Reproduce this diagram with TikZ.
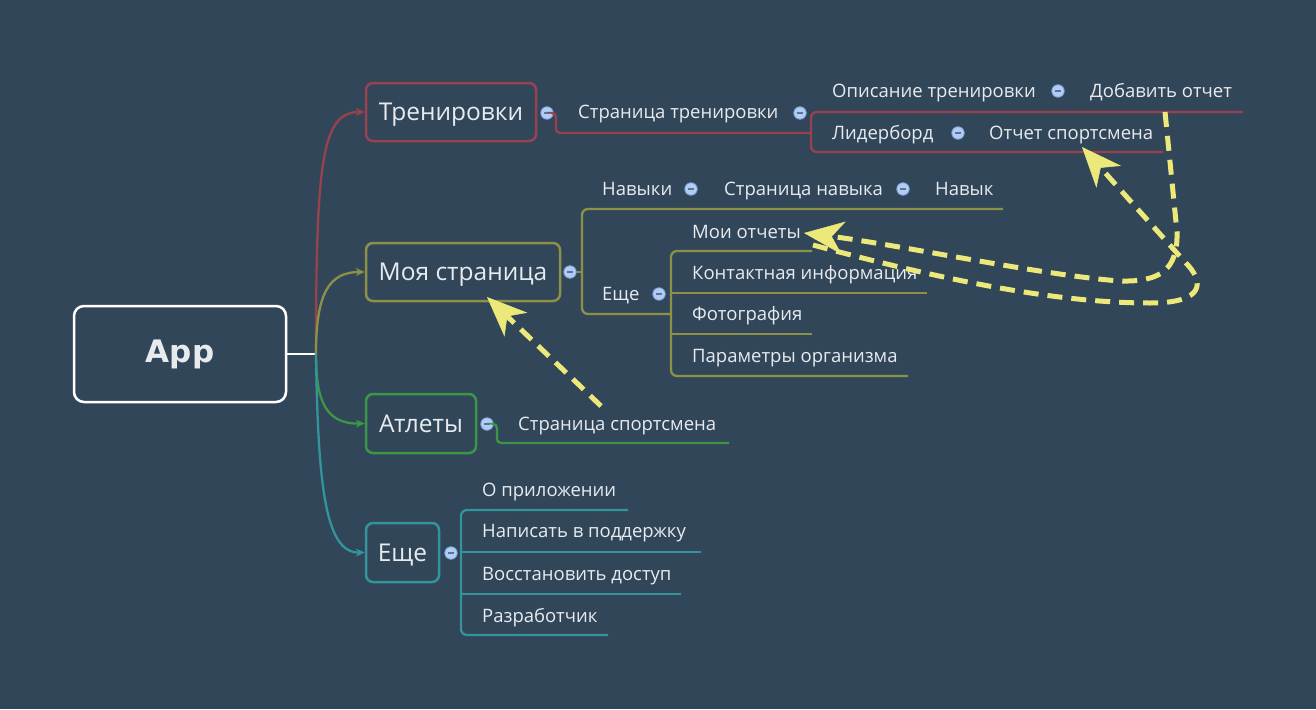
\documentclass[tikz,border=0pt]{standalone}
\usepackage{fontspec}
\setmainfont{Open Sans}
\newfontfamily\appfont{DejaVu Sans}
\usetikzlibrary{arrows.meta}
\definecolor{bg}{RGB}{50,70,90}
\definecolor{cred}{RGB}{152,66,78}
\definecolor{colive}{RGB}{140,145,72}
\definecolor{cgreen}{RGB}{60,150,72}
\definecolor{cteal}{RGB}{52,148,155}
\definecolor{cyel}{RGB}{236,232,122}
\definecolor{ctext}{RGB}{232,235,238}
\definecolor{cmin}{RGB}{175,205,245}
\definecolor{cminb}{RGB}{125,160,215}
\definecolor{cmdash}{RGB}{95,115,145}
\tikzset{
  mainbox/.style={draw, line width=2.5pt, rounded corners=7pt, text=ctext, font=\fontsize{24.5}{28}\selectfont, inner sep=0pt, minimum height=58pt, text height=18pt, text depth=1pt},
  lbl/.style={anchor=west, inner sep=0pt, text=ctext, font=\fontsize{18.5}{22}\selectfont, text height=15pt, text depth=2pt},
  minus/.style={circle, fill=cmin, draw=cminb, line width=0.8pt, minimum size=12.5pt, inner sep=0pt,
     path picture={\draw[cmdash, line width=1.2pt] ([xshift=-3pt]path picture bounding box.center) -- ([xshift=3pt]path picture bounding box.center);}},
  br/.style={line width=2.3pt},
  branch/.style={line width=2.3pt, -{Stealth[length=9pt,width=8pt]}},
  yarrow/.style={draw=cyel, line width=5pt, dash pattern=on 15pt off 9pt, -{Stealth[length=40pt,width=33pt,inset=12pt,line width=0.5pt]}}
}
\begin{document}
\begin{tikzpicture}[x=1pt,y=-1pt]
\fill[bg] (0,0) rectangle (1316,709);
\useasboundingbox (0,0) rectangle (1316,709);

% root
\node[draw=white, line width=2.5pt, rounded corners=10pt, minimum width=212pt, minimum height=96pt, inner sep=0pt, text=ctext, font=\appfont\bfseries\fontsize{31}{36}\selectfont] (app) at (180,354) {App};
\coordinate (hub) at (316,354);
\draw[white, br] (app.east) -- (hub);

% main nodes
\node[mainbox, draw=cred, minimum width=170pt] (tr) at (451,112) {Тренировки};
\node[mainbox, draw=colive, minimum width=194pt] (ms) at (463,272) {Моя страница};
\node[mainbox, draw=cgreen, minimum width=110pt, minimum height=59pt] (at) at (421,423.5) {Атлеты};
\node[mainbox, draw=cteal, minimum width=73pt, minimum height=59pt] (eq) at (402.5,552.5) {Еще};

% branches from hub
\draw[branch, cred] (hub) .. controls (316,160) and (322,112) .. (tr.west);
\draw[branch, colive] (hub) .. controls (316,295) and (328,272) .. (ms.west);
\draw[branch, cgreen] (hub) .. controls (316,400) and (325,424) .. (at.west);
\draw[branch, cteal] (hub) .. controls (318,490) and (326,553) .. (eq.west);

% ---- Тренировки subtree
\draw[cred, br] (1243,112) -- (817,112) arc[start angle=270, end angle=180, radius=6] -- (811,146) arc[start angle=180, end angle=90, radius=6] -- (1163,152);
\coordinate (b1) at (811,133);
\node[minus] (m1) at (547,113) {};
\draw[cred, br, rounded corners=4pt] (m1.east) -| (556,133) -- (b1);
\node[lbl] (tp) at (578,112) {Страница тренировки};
\node[minus] (m2) at (800,113) {};
\node[lbl] (od) at (832,91) {Описание тренировки};
\node[minus] (m3) at (1058,91) {};
\node[lbl] (do) at (1090,91) {Добавить отчет};
\node[lbl] (ld) at (832,133) {Лидерборд};
\node[minus] (m4) at (958,133) {};
\node[lbl] (os) at (989,133) {Отчет спортсмена};

% ---- Моя страница subtree
\draw[colive, br, rounded corners=6pt] (1003,209) -- (582,209) -- (582,314) -- (671,314);
\node[minus] (m5) at (570,272) {};
\draw[colive, br] (m5.east) -- (582,272);
\node[lbl] (nv) at (602,189) {Навыки};
\node[minus] (m6) at (691,189) {};
\node[lbl] (sn) at (724,189) {Страница навыка};
\node[minus] (m7) at (903,189) {};
\node[lbl] (nk) at (935,189) {Навык};
\node[lbl] (e2) at (602,294) {Еще};
\draw[colive, br, rounded corners=6pt] (812,251) -- (671,251) -- (671,376) -- (908,376);
\draw[colive, br] (671,293) -- (927,293);
\draw[colive, br] (671,334) -- (812,334);
\node[minus] (m8) at (659,294) {};
\node[lbl] (mo) at (692,232) {Мои отчеты};
\node[lbl] (ki) at (692,273) {Контактная информация};
\node[lbl] (ph) at (692,314) {Фотография};
\node[lbl] (po) at (692,356) {Параметры организма};

% ---- Атлеты subtree
\node[minus] (m9) at (487,424) {};
\draw[cgreen, br, rounded corners=4pt] (m9.east) -| (497,443) -- (729,443);
\node[lbl] (ss) at (518,424) {Страница спортсмена};

% ---- Еще subtree
\draw[cteal, br, rounded corners=6pt] (628,510) -- (461,510) -- (461,635) -- (608,635);
\draw[cteal, br] (461,552) -- (701,552);
\draw[cteal, br] (461,594) -- (681,594);
\node[minus] (m10) at (451,553) {};
\node[lbl] (op) at (482,490) {О приложении};
\node[lbl] (np) at (482,531) {Написать в поддержку};
\node[lbl] (vd) at (482,574) {Восстановить доступ};
\node[lbl] (rz) at (482,616) {Разработчик};

% ---- yellow dashed relations
\coordinate (s1) at (601,406);
\coordinate (t1) at (487,297);
\draw[yarrow] (s1) -- (t1);
\coordinate (s2) at (1165,112);
\coordinate (t2) at (804,233);
\draw[yarrow] (s2) -- (1177,232) .. controls (1178,270) and (1160,282) .. (1120,281) .. controls (1040,275) and (900,245) .. (t2);
\coordinate (s3) at (813,245);
\coordinate (t3) at (1082,147);
\draw[yarrow] (s3) .. controls (950,282) and (1060,303) .. (1150,303) .. controls (1205,303) and (1205,282) .. (1185,262) -- (t3);
\end{tikzpicture}
\end{document}
